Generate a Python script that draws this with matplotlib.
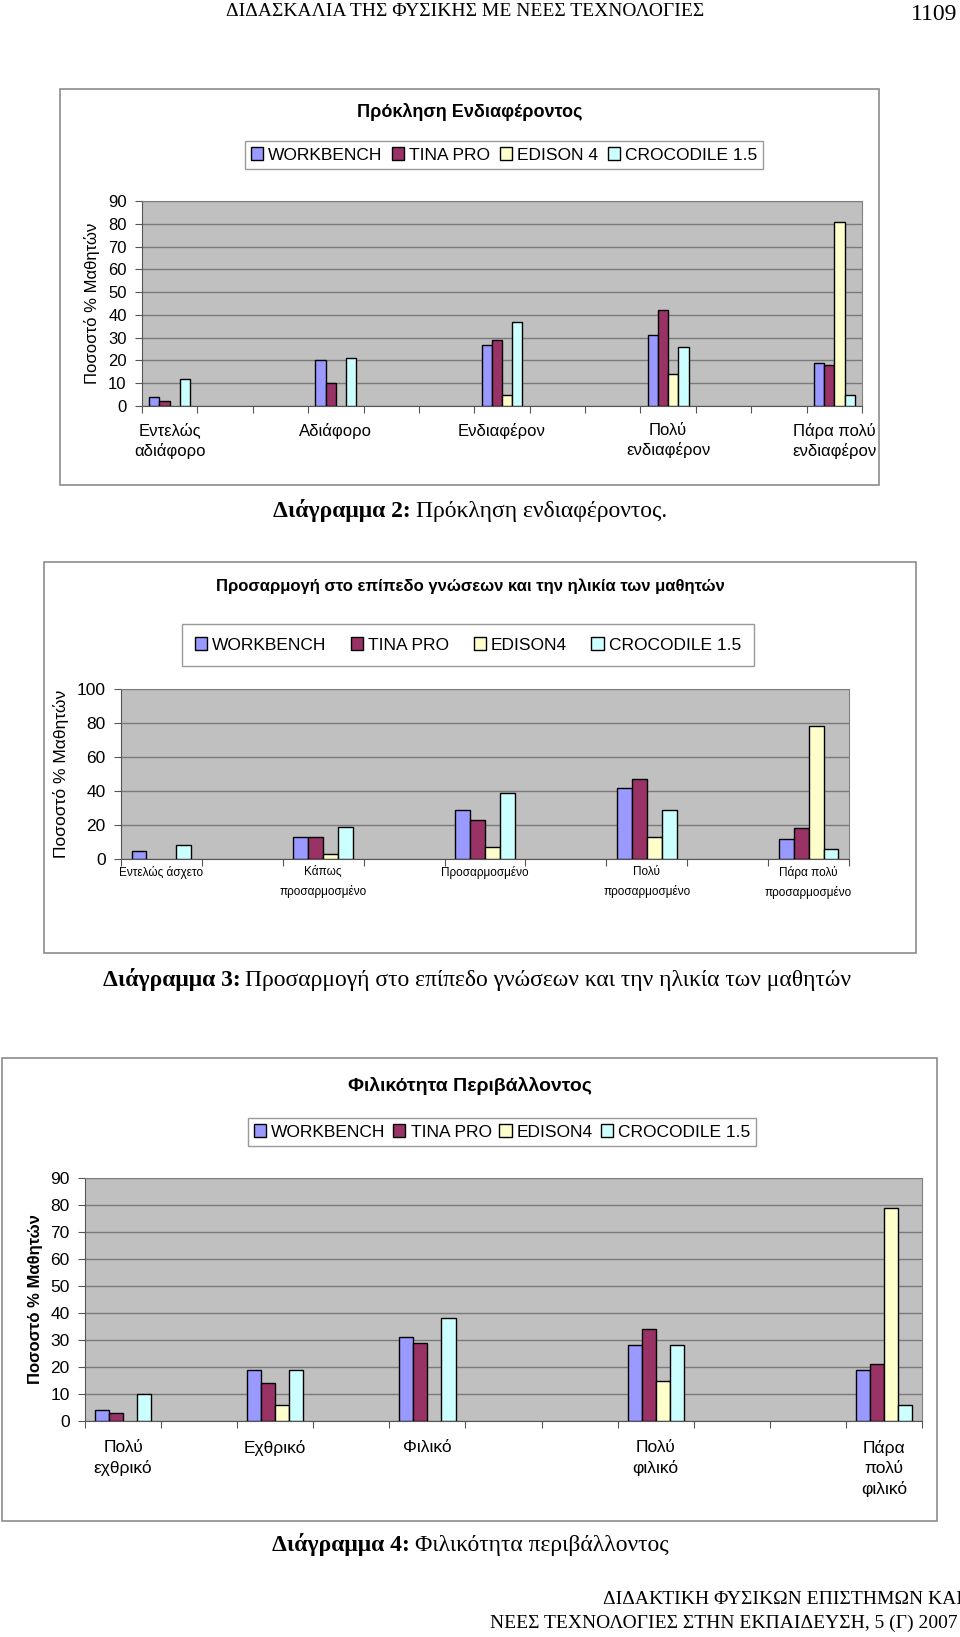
import matplotlib.pyplot as plt
from matplotlib.patches import Rectangle, Patch

plt.rcParams['font.family'] = ['Liberation Sans', 'DejaVu Sans']

# series (common to all three charts)
series = ['WORKBENCH', 'TINA PRO', 'EDISON 4', 'CROCODILE 1.5']
series_b = ['WORKBENCH', 'TINA PRO', 'EDISON4', 'CROCODILE 1.5']
colors = ['#9999FF', '#993366', '#FFFFCC', '#CCFFFF']

# Διάγραμμα 2 - empty strings are the blank rows of the sheet
cat1 = ['Εντελώς\nαδιάφορο', '', '', 'Αδιάφορο', '', '', 'Ενδιαφέρον', '', '',
        'Πολύ\nενδιαφέρον', '', '', 'Πάρα πολύ\nενδιαφέρον']
wb1 = [4, None, None, 20, None, None, 27, None, None, 31, None, None, 19]
tina1 = [2, None, None, 10, None, None, 29, None, None, 42, None, None, 18]
edison1 = [0, None, None, 0, None, None, 5, None, None, 14, None, None, 81]
croc1 = [12, None, None, 21, None, None, 37, None, None, 26, None, None, 5]

# Διάγραμμα 3
cat2 = ['Εντελώς άσχετο', '', 'Κάπως\nπροσαρμοσμένο', '', 'Προσαρμοσμένο', '',
        'Πολύ\nπροσαρμοσμένο', '', 'Πάρα πολύ\nπροσαρμοσμένο']
wb2 = [5, None, 13, None, 29, None, 42, None, 12]
tina2 = [0, None, 13, None, 23, None, 47, None, 18]
edison2 = [0, None, 3, None, 7, None, 13, None, 78]
croc2 = [8, None, 19, None, 39, None, 29, None, 6]

# Διάγραμμα 4
cat3 = ['Πολύ\nεχθρικό', '', 'Εχθρικό', '', 'Φιλικό', '', '', 'Πολύ\nφιλικό', '', '',
        'Πάρα\nπολύ\nφιλικό']
wb3 = [4, None, 19, None, 31, None, None, 28, None, None, 19]
tina3 = [3, None, 14, None, 29, None, None, 34, None, None, 21]
edison3 = [0, None, 6, None, 0, None, None, 15, None, None, 79]
croc3 = [10, None, 19, None, 38, None, None, 28, None, None, 6]

W, H = 960, 1637
fig = plt.figure(figsize=(W / 100, H / 100), dpi=100)


def fx(px):
    return px / W


def fy(py):
    return 1 - py / H


def box(l, t, r, b):
    fig.patches.append(Rectangle((fx(l), fy(b)), (r - l) / W, (b - t) / H,
                                 transform=fig.transFigure, fill=False,
                                 edgecolor='#8c8c8c', lw=1.2))


def chart(l, t, r, b, cats, data, ymax, ystep, tick_fs, xfs, xpad, lsp):
    ax = fig.add_axes([fx(l), fy(b), (r - l) / W, (b - t) / H])
    ax.set_facecolor('#C0C0C0')
    n = len(cats)
    bw = 0.185
    for k, vals in enumerate(data):
        xs = [i + (k - 1.5) * bw for i, v in enumerate(vals) if v]
        hs = [v for v in vals if v]
        ax.bar(xs, hs, bw, color=colors[k], edgecolor='black', lw=1, zorder=3)
    ax.set_xlim(-0.5, n - 0.5)
    ax.set_ylim(0, ymax)
    ax.set_yticks(range(0, ymax + 1, ystep))
    ax.yaxis.grid(True, color='#7a7a7a', lw=1)
    ax.set_axisbelow(True)
    ax.set_xticks([i - 0.5 for i in range(n + 1)])
    ax.set_xticks(range(n), minor=True)
    ax.set_xticklabels(cats, minor=True, fontsize=xfs)
    ax.tick_params(axis='x', which='major', length=5, labelbottom=False, color='#555555')
    ax.tick_params(axis='x', which='minor', length=0, pad=xpad)
    ax.tick_params(axis='y', length=5, labelsize=tick_fs, pad=6, color='#555555')
    for lbl in ax.get_xticklabels(minor=True):
        lbl.set_linespacing(lsp)
    for s in ax.spines.values():
        s.set_color('#808080')
    ax.spines['bottom'].set_color('#555555')
    ax.spines['left'].set_color('#555555')
    return ax


def legend(cx, cy, labels, fs, colsp, bpad):
    handles = [Patch(facecolor=c, edgecolor='black', lw=1) for c in colors]
    lg = fig.legend(handles, labels, loc='center', bbox_to_anchor=(fx(cx), fy(cy)),
                    ncol=4, fontsize=fs, handlelength=0.7, handleheight=0.7,
                    handletextpad=0.3, columnspacing=colsp, borderpad=bpad,
                    fancybox=False, framealpha=1)
    lg.get_frame().set_edgecolor('#9a9a9a')
    lg.get_frame().set_linewidth(1)


def ylabel(ax, px, l, r, text, fs, weight='normal'):
    ax.set_ylabel(text, fontsize=fs, fontweight=weight)
    ax.yaxis.set_label_coords((px - l) / (r - l), 0.5)


def caption(cx, y, bold, rest, fs):
    rnd = fig.canvas.get_renderer()
    t1 = fig.text(0, fy(y), bold, fontfamily='Liberation Serif', fontweight='bold',
                  fontsize=fs, va='baseline')
    t2 = fig.text(0, fy(y), rest, fontfamily='Liberation Serif', fontsize=fs, va='baseline')
    w1 = t1.get_window_extent(rnd).width
    w2 = t2.get_window_extent(rnd).width
    x0 = cx - (w1 + w2 + 5) / 2
    t1.set_x(fx(x0))
    t2.set_x(fx(x0 + w1 + 5))


# page header
fig.text(fx(465), fy(12), 'ΔΙΔΑΣΚΑΛΙΑ ΤΗΣ ΦΥΣΙΚΗΣ ΜΕ ΝΕΕΣ ΤΕΧΝΟΛΟΓΙΕΣ',
         fontfamily='Liberation Serif', fontsize=14, ha='center', va='center')
fig.text(fx(957), fy(15), '1109', fontfamily='Liberation Serif', fontsize=17,
         ha='right', va='center')

# chart 1
box(60, 89, 879, 485)
fig.text(fx(470), fy(112), 'Πρόκληση Ενδιαφέροντος', fontsize=13, fontweight='bold',
         ha='center', va='center')
legend(504, 155, series, 12.5, 0.55, 0.35)
ax1 = chart(142, 201, 862, 406, cat1, [wb1, tina1, edison1, croc1], 90, 10, 12, 12, 12, 1.35)
ylabel(ax1, 100, 142, 862, 'Ποσοστό % Μαθητών', 12)
caption(470, 517, 'Διάγραμμα 2:', 'Πρόκληση ενδιαφέροντος.', 17)

# chart 2
box(44, 562, 916, 953)
fig.text(fx(470), fy(586), 'Προσαρμογή στο επίπεδο γνώσεων και την ηλικία των μαθητών',
         fontsize=12, fontweight='bold', ha='center', va='center')
legend(468, 645, series_b, 12.5, 1.4, 0.75)
ax2 = chart(121, 689, 849, 859, cat2, [wb2, tina2, edison2, croc2], 100, 20, 12.5, 8.5, 5, 1.7)
ylabel(ax2, 69, 121, 849, 'Ποσοστό % Μαθητών', 12.5)
caption(477, 986, 'Διάγραμμα 3:', 'Προσαρμογή στο επίπεδο γνώσεων και την ηλικία των μαθητών', 17)

# chart 3
box(2, 1058, 937, 1521)
fig.text(fx(470), fy(1086), 'Φιλικότητα Περιβάλλοντος', fontsize=14, fontweight='bold',
         ha='center', va='center')
legend(502, 1132, series_b, 12.5, 0.45, 0.35)
ax3 = chart(85, 1178, 922, 1421, cat3, [wb3, tina3, edison3, croc3], 90, 10, 12.5, 12.5, 14, 1.38)
ylabel(ax3, 43, 85, 922, 'Ποσοστό % Μαθητών', 12, 'bold')
caption(470, 1551, 'Διάγραμμα 4:', 'Φιλικότητα περιβάλλοντος', 17)

# page footer
fig.text(fx(963), fy(1600), 'ΔΙΔΑΚΤΙΚΗ ΦΥΣΙΚΩΝ ΕΠΙΣΤΗΜΩΝ ΚΑΙ', fontfamily='Liberation Serif',
         fontsize=14, ha='right', va='center')
fig.text(fx(958), fy(1623), 'ΝΕΕΣ ΤΕΧΝΟΛΟΓΙΕΣ ΣΤΗΝ ΕΚΠΑΙΔΕΥΣΗ, 5 (Γ) 2007',
         fontfamily='Liberation Serif', fontsize=14, ha='right', va='center')

fig.savefig('out.png', dpi=100)
